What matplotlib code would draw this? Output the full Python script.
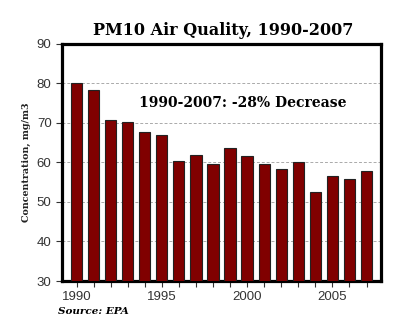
import numpy as np
import matplotlib.pyplot as plt

# PM10 concentration by year (EPA)
years = list(range(1990, 2008))
pm10 = [80.0, 78.2, 70.6, 70.1, 67.6, 66.9, 60.4, 61.8, 59.5, 63.7,
        61.5, 59.7, 58.4, 60.0, 52.5, 56.5, 55.8, 57.7]
year_ticks = [1990, 1995, 2000, 2005]
conc_ticks = [30, 40, 50, 60, 70, 80, 90]

fig = plt.figure(figsize=(4, 3.26), dpi=100)
ax = fig.add_axes([0.155, 0.138, 0.7975, 0.728])

ax.bar(years, pm10, width=0.66, color='#800000', edgecolor='#222222',
       linewidth=0.8, zorder=3)

ax.set_ylim(30, 90)
ax.set_xlim(1989.15, 2007.85)
ax.set_yticks(conc_ticks)
ax.set_xticks(years, minor=True)
ax.set_xticks(year_ticks)

# dashed grid at the inner values only
for v in conc_ticks[1:-1]:
    ax.axhline(v, color='#aaaaaa', linestyle=(0, (3, 2)), linewidth=0.7, zorder=1)

for s in ax.spines.values():
    s.set_linewidth(2.3)
    s.set_color('black')

ax.tick_params(axis='both', which='both', direction='out', color='#333333',
               labelcolor='#333333', labelsize=9.5, length=4, width=0.8)
ax.tick_params(axis='x', which='minor', length=4)
for lab in ax.get_xticklabels() + ax.get_yticklabels():
    lab.set_family('Liberation Sans')

ax.set_ylabel('Concentration, mg/m3', family='DejaVu Serif', fontweight='bold',
              fontsize=6.8, color='#222222', labelpad=4)

fig.text(0.559, 0.905, 'PM10 Air Quality, 1990-2007', ha='center', va='center',
         family='DejaVu Serif', fontweight='bold', fontsize=11.5)

ax.text(1999.75, 75.0, '1990-2007: -28% Decrease', ha='center', va='center',
        family='DejaVu Serif', fontweight='bold', fontsize=10, zorder=4)

fig.text(0.145, 0.043, 'Source: EPA', ha='left', va='center',
         family='DejaVu Serif', fontweight='bold', style='italic', fontsize=7.5)

fig.savefig('out.png', dpi=100)
